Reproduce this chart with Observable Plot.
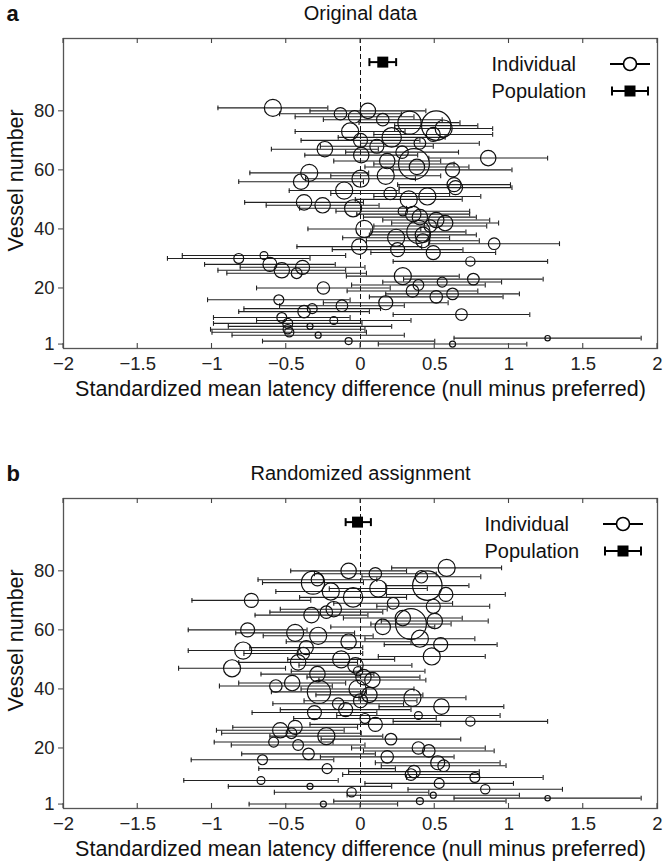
<!DOCTYPE html>
<html>
<head>
<meta charset="utf-8">
<script src="https://cdn.jsdelivr.net/npm/d3@7"></script>
<script src="https://cdn.jsdelivr.net/npm/@observablehq/plot@0.6"></script>
<style>
  html, body { margin: 0; padding: 0; background: #fff; }
  #chart { width: 666px; }
  #chart svg { display: block; }
</style>
</head>
<body>
<div id="chart"></div>
<script>
// ---------- data ----------
const vessels = d3.range(1, 82); // vessel numbers 1..81
const xTicks = [-2, -1.5, -1, -0.5, 0, 0.5, 1, 1.5, 2];
const yTicks = [1, 20, 40, 60, 80];

// panel a: original data, standardized mean latency difference per vessel (1..81)
const meanOriginal = [
  0.62, -0.08, 1.26, -0.285, -0.48, -0.49, -0.34, -0.49, -0.18, -0.53,
  0.68, -0.38, -0.325, -0.125, 0.17, -0.55, 0.51, 0.62, 0.35, -0.25,
  0.39, 0.55, 0.76, 0.285, -0.43, -0.53, -0.39, -0.61, 0.74, -0.82,
  -0.65, 0.49, 0.25, -0.008, 0.90, 0.42, 0.24, 0.42, 0.39, 0.026,
  0.47, 0.57, 0.51, 0.40, 0.355, 0.285, -0.05, -0.255, -0.38, 0.325,
  0.45, 0.20, -0.11, 0.64, 0.63, -0.40, 0.0, 0.17, -0.345, 0.62,
  0.38, 0.36, 0.18, 0.86, 0.005, 0.28, -0.24, 0.11, 0.40, 0.0,
  0.21, 0.49, -0.07, 0.56, 0.51, 0.33, 0.15, -0.04, -0.135, 0.05, -0.59
];
// panel b: randomized assignment
const meanRandomized = [
  -0.25, 0.40, 1.26, 0.49, -0.06, 0.84, -0.34, 0.53, -0.67, 0.77,
  0.34, 0.36, -0.225, 0.56, 0.52, -0.66, 0.18, -0.35, 0.46, 0.39,
  -0.42, -0.585, 0.205, -0.23, -0.465, -0.54, -0.44, 0.10, 0.74, 0.03,
  0.39, -0.31, -0.10, 0.545, -0.15, 0.0, 0.35, 0.06, -0.28, -0.02,
  -0.57, -0.46, 0.08, 0.02, -0.29, -0.016, -0.865, -0.034, -0.42, -0.13,
  0.48, -0.385, -0.79, -0.365, 0.54, -0.08, 0.40, -0.285, -0.44, -0.76,
  0.15, 0.34, 0.50, 0.285, -0.33, -0.23, -0.18, 0.49, 0.22, -0.735,
  -0.05, 0.575, -0.20, 0.12, 0.45, -0.32, -0.29, 0.41, 0.10, -0.08, 0.58
];
// half-width of each vessel's confidence interval
const halfInterval = [
  0.50, 0.58, 0.63, 0.58, 0.52, 0.52, 0.55, 0.50, 0.52, 0.46,
  0.46, 0.44, 0.46, 0.42, 0.42, 0.48, 0.45, 0.45, 0.44, 0.45,
  0.45, 0.40, 0.47, 0.38, 0.47, 0.43, 0.42, 0.44, 0.52, 0.48,
  0.55, 0.42, 0.44, 0.42, 0.44, 0.38, 0.36, 0.36, 0.32, 0.38,
  0.38, 0.36, 0.36, 0.38, 0.38, 0.45, 0.36, 0.38, 0.40, 0.36,
  0.36, 0.40, 0.37, 0.38, 0.38, 0.42, 0.37, 0.37, 0.40, 0.40,
  0.35, 0.27, 0.36, 0.40, 0.38, 0.38, 0.36, 0.38, 0.40, 0.40,
  0.36, 0.40, 0.37, 0.33, 0.28, 0.34, 0.40, 0.40, 0.41, 0.39, 0.37
];
// number of trials per vessel (circle area)
const trials = [
  9, 12, 7, 9, 21, 21, 9, 24, 15, 24,
  33, 38, 24, 33, 48, 24, 38, 33, 38, 38,
  28, 24, 33, 71, 28, 58, 48, 48, 21, 24,
  15, 48, 48, 58, 33, 48, 71, 58, 131, 71,
  38, 58, 58, 58, 58, 21, 71, 58, 58, 71,
  71, 38, 71, 48, 48, 58, 71, 71, 71, 48,
  58, 232, 58, 58, 58, 38, 58, 48, 33, 48,
  92, 48, 71, 71, 211, 131, 38, 38, 38, 58, 71
];
// population estimates
const popMean = [0.15, -0.02];
const popLow = [0.06, -0.10];
const popHigh = [0.24, 0.07];
const popRow = 96.5;

const panelLetters = ["a", "b"];
const panelTitles = ["Original data", "Randomized assignment"];
const xLabel = "Standardized mean latency difference (null minus preferred)";
const yLabel = "Vessel number";
const legendLabels = ["Individual", "Population"];

// ---------- drawing ----------
const FONT = "'Liberation Sans', Arial, Helvetica, sans-serif";
const capSymbol = {
  draw(ctx, size) {
    const h = Math.sqrt(size / Math.PI);
    ctx.moveTo(0, -h);
    ctx.lineTo(0, h);
  }
};

function panel(k, means, height, marginBottom, legendTextX, legendSymX) {
  const rows = vessels.map((v, i) => ({
    vessel: v, mean: means[i], low: means[i] - halfInterval[i], high: means[i] + halfInterval[i], n: trials[i]
  }));
  const pop = [{row: popRow, mean: popMean[k], low: popLow[k], high: popHigh[k]}];
  const W = 666, mL = 63, mR = 9, mT = 38;

  const plot = Plot.plot({
    width: W, height,
    marginLeft: mL, marginRight: mR, marginTop: mT, marginBottom,
    style: {fontFamily: FONT, fontSize: "19px", color: "#111", background: "#fff", overflow: "visible"},
    x: {domain: [-2, 2]},
    y: {domain: [-0.5, 104.5]},
    r: {type: "sqrt", domain: [0, 250], range: [0, 16]},
    marks: [
      Plot.ruleX([0], {stroke: "#111", strokeWidth: 1, strokeDasharray: "5,3"}),
      Plot.ruleY(rows, {y: "vessel", x1: "low", x2: "high", stroke: "#222", strokeWidth: 1.1}),
      Plot.dot(rows, {x: "low", y: "vessel", symbol: capSymbol, r: 2.4, stroke: "#222", fill: "none", strokeWidth: 1.1}),
      Plot.dot(rows, {x: "high", y: "vessel", symbol: capSymbol, r: 2.4, stroke: "#222", fill: "none", strokeWidth: 1.1}),
      Plot.dot(rows, {x: "mean", y: "vessel", r: "n", stroke: "#111", fill: "none", strokeWidth: 1.2}),
      Plot.ruleY(pop, {y: "row", x1: "low", x2: "high", stroke: "#000", strokeWidth: 2}),
      Plot.dot(pop, {x: "low", y: "row", symbol: capSymbol, r: 4, stroke: "#000", fill: "none", strokeWidth: 2}),
      Plot.dot(pop, {x: "high", y: "row", symbol: capSymbol, r: 4, stroke: "#000", fill: "none", strokeWidth: 2}),
      Plot.dot(pop, {x: "mean", y: "row", symbol: "square", r: 6.2, fill: "#000", stroke: "none"}),
      Plot.frame({stroke: "#555", strokeWidth: 1.3}),
      Plot.axisY({ticks: yTicks, tickSize: 5, tickPadding: 4, fontSize: 18.5, label: null, stroke: "#444", fill: "#222"}),
      Plot.axisX({ticks: xTicks, tickSize: 0, tickPadding: 8, fontSize: 18.5, label: null, fill: "#222",
                  tickFormat: d3.format("~g")}),
      Plot.text([panelTitles[k]], {frameAnchor: "top", dy: -25, lineAnchor: "middle", fontSize: 20, fill: "#111"}),
      Plot.text([panelLetters[k]], {frameAnchor: "top-left", dx: -57, dy: -25, lineAnchor: "middle", textAnchor: "start",
                                    fontSize: 22, fontWeight: "bold", fill: "#111"}),
      Plot.text([xLabel], {frameAnchor: "bottom", dy: 41, lineAnchor: "middle", fontSize: 21.5, fill: "#111"}),
      Plot.text([yLabel], {frameAnchor: "left", dx: -47, dy: 58, lineAnchor: "middle", rotate: -90, fontSize: 21.5, fill: "#111"}),
      Plot.text([legendLabels[0]], {frameAnchor: "top-right", dx: legendTextX - (W - mR), dy: 26, lineAnchor: "middle",
                                    textAnchor: "start", fontSize: 20, fill: "#111"}),
      Plot.text([legendLabels[1]], {frameAnchor: "top-right", dx: legendTextX - (W - mR), dy: 53, lineAnchor: "middle",
                                    textAnchor: "start", fontSize: 20, fill: "#111"})
    ]
  });

  // inward tick marks on top and bottom edges of the frame, placed with Plot's x scale
  const xs = plot.scale("x");
  const svg = d3.select(plot);
  const yBottom = height - marginBottom, yTop = mT;
  const g = svg.append("g").attr("stroke", "#444").attr("stroke-width", 1.1);
  xTicks.forEach(t => {
    const px = xs.apply(t);
    g.append("line").attr("x1", px).attr("x2", px).attr("y1", yBottom).attr("y2", yBottom - 5);
    g.append("line").attr("x1", px).attr("x2", px).attr("y1", yTop).attr("y2", yTop + 5);
  });

  // legend symbols
  const lg = svg.append("g");
  const y1 = mT + 26, y2 = mT + 53;
  lg.append("line").attr("x1", legendSymX - 20).attr("x2", legendSymX + 20).attr("y1", y1).attr("y2", y1)
    .attr("stroke", "#000").attr("stroke-width", 1.8);
  lg.append("circle").attr("cx", legendSymX).attr("cy", y1).attr("r", 6.5)
    .attr("fill", "#fff").attr("stroke", "#000").attr("stroke-width", 1.6);
  lg.append("line").attr("x1", legendSymX - 18).attr("x2", legendSymX + 18).attr("y1", y2).attr("y2", y2)
    .attr("stroke", "#000").attr("stroke-width", 2);
  [-18, 18].forEach(d => lg.append("line").attr("x1", legendSymX + d).attr("x2", legendSymX + d)
    .attr("y1", y2 - 4.5).attr("y2", y2 + 4.5).attr("stroke", "#000").attr("stroke-width", 2));
  lg.append("rect").attr("x", legendSymX - 5.5).attr("y", y2 - 5.5).attr("width", 11).attr("height", 11)
    .attr("fill", "#000");

  return plot;
}

const chart = document.getElementById("chart");
chart.appendChild(panel(0, meanOriginal, 460, 112, 491, 630));
chart.appendChild(panel(1, meanRandomized, 402, 54, 484, 623));
</script>
</body>
</html>
